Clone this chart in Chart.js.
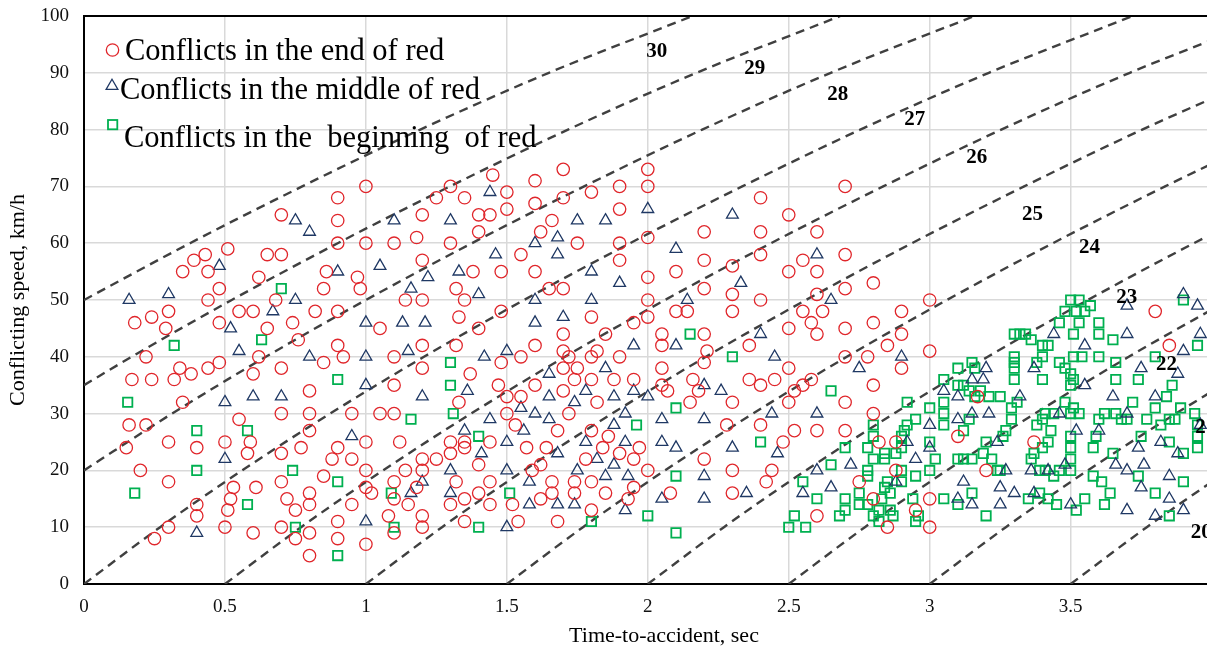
<!DOCTYPE html>
<html>
<head>
<meta charset="utf-8">
<script src="https://cdn.jsdelivr.net/npm/chart.js@4.4.1/dist/chart.umd.min.js"></script>
<style>
  html, body { margin: 0; padding: 0; background: #fff; overflow: hidden; }
  #wrap { width: 1207px; height: 649px; overflow: hidden; }
</style>
</head>
<body>
<div id="wrap"><canvas id="c" width="1220" height="649"></canvas></div>
<script>
// Conflicts in the end of red: [time-to-accident (s), conflicting speed (km/h)]
const endOfRed = [
  [1.0,70],[0.9,68],[0.7,65],[0.9,64],[0.9,60],[1.0,60],[0.51,59],[0.43,58],[0.39,57],[0.65,58],[0.70,58],
  [0.35,55],[0.44,55],[0.62,54],[0.86,55],[0.97,54],[0.48,52],[0.85,52],[0.98,52],[0.44,50],[0.68,50],
  [0.30,48],[0.55,48],[0.60,48],[0.82,48],[0.90,48],[0.18,46],[0.24,47],[0.29,45],[0.48,46],[0.65,45],
  [0.74,46],[0.76,43],[0.90,42],[0.22,40],[0.62,40],[0.92,40],
  [0.85,39],[0.48,39],[0.44,38],[0.34,38],[0.38,37],[0.17,36],[0.24,36],[0.32,36],[0.60,37],[0.70,38],
  [0.80,34],[0.35,32],[0.70,30],[0.80,30],[0.95,30],[0.55,29],[0.16,28],[0.22,28],[0.80,27],[0.30,25],
  [0.50,25],[0.59,25],[0.15,24],[0.40,24],[0.70,23],[0.58,23],[0.77,24],[0.90,24],[0.88,22],[0.95,22],
  [1.0,25],[0.20,20],[1.0,20],[0.85,19],[0.30,18],[0.70,18],[1.0,17],[1.02,16],[0.53,17],[0.61,17],
  [0.52,15],[0.72,15],[0.80,16],[0.40,14],[0.51,13],[0.75,13],[0.80,14],[0.95,14],[0.40,12],[0.30,10],
  [0.50,10],[0.70,10],[0.90,11],[0.25,8],[0.60,9],[0.75,8],[0.80,9],[0.90,8],[1.0,7],[0.80,5],
  [1.45,72],[1.70,73],[1.60,71],[1.30,70],[1.25,68],[1.35,68],[1.50,69],[1.60,67],[1.70,68],[1.80,69],
  [1.90,70],[2.0,70],[2.0,73],[1.20,65],[1.40,65],[1.44,65],[1.50,66],[1.66,64],[1.90,66],[1.40,62],
  [1.62,62],[1.10,60],[1.18,61],[1.30,60],[1.75,60],[1.90,60],[2.0,61],[1.20,57],[1.55,58],[1.90,57],
  [1.38,55],[1.48,55],[1.60,55],[2.0,54],[1.32,52],[1.65,52],[1.70,52],[1.14,50],[1.20,50],[1.35,50],
  [2.0,50],[1.48,48],[1.33,47],[1.80,47],[2.0,47],[1.05,45],[1.40,45],[1.95,46],[1.70,44],[1.85,44],
  [1.20,42],[1.32,42],[1.60,42],[1.70,41],[1.82,41],[1.10,40],[1.55,40],[1.72,40],[1.80,40],[1.90,40],
  [1.48,39],[1.20,38],[1.37,37],[1.70,38],[1.75,38],[1.74,36],[1.80,36],[1.88,36],[1.95,36],[1.10,35],
  [1.47,35],[1.60,35],[1.70,34],[1.33,32],[1.50,33],[1.55,33],[1.82,32],[1.05,30],[1.10,30],[1.50,30],
  [1.72,30],[1.53,28],[1.68,27],[1.80,27],[1.86,26],[1.12,25],[1.30,25],[1.35,25],[1.35,24],[1.44,25],
  [1.57,24],[1.64,24],[1.84,24],[1.97,24],[1.30,23],[1.90,23],[1.20,22],[1.25,22],[1.78,22],[1.95,22],
  [1.40,21],[1.62,21],[1.14,20],[1.20,20],[1.59,20],[2.0,20],[1.10,18],[1.32,18],[1.44,18],[1.66,18],
  [1.74,18],[1.80,18],[1.95,17],[1.18,17],[1.40,16],[1.66,16],[1.74,16],[1.85,16],[1.10,15],[1.35,15],
  [1.62,15],[1.93,15],[1.15,14],[1.30,14],[1.44,14],[1.52,14],[1.80,13],[1.08,12],[1.20,12],[1.35,11],
  [1.54,11],[1.68,11],[1.20,10],[1.10,9],
  [2.70,70],[2.40,68],[2.50,65],[2.20,62],[2.40,62],[2.60,62],[2.40,58],[2.70,58],[2.55,57],[2.20,57],
  [2.30,56],[2.10,55],[2.50,55],[2.60,55],[2.80,53],[2.20,52],[2.70,52],[2.30,51],[2.60,51],[2.40,50],
  [3.0,50],[2.10,48],[2.14,48],[2.30,48],[2.55,48],[2.62,48],[2.90,48],[2.58,46],[2.80,46],[2.05,44],
  [2.20,44],[2.50,45],[2.60,44],[2.70,45],[2.90,44],[2.05,42],[2.36,42],[2.85,42],[2.21,41],[2.70,40],
  [2.78,40],[3.0,41],[2.20,39],[2.05,38],[2.50,38],[2.90,38],[2.16,36],[2.36,36],[2.45,36],[2.58,36],
  [2.05,35],[2.40,35],[2.55,35],[2.80,35],[2.07,34],[2.18,34],[2.52,34],[2.15,32],[2.30,32],[2.50,32],
  [2.70,32],[2.80,30],[2.28,28],[2.40,28],[2.52,27],[2.60,27],[2.70,27],[2.48,25],[2.82,25],[2.88,25],
  [2.20,22],[2.30,20],[2.44,20],[2.88,20],[2.42,18],[2.75,18],[2.08,16],[2.30,16],[2.80,15],[3.0,15],
  [2.95,13],[2.60,12],[2.85,10],[3.0,10],
  [3.80,48],[3.85,42],[3.17,33],[3.10,26],[3.37,25],[3.20,20]
];

// Conflicts in the middle of red
const middleOfRed = [
  [0.75,64],[0.80,62],[0.48,56],[0.90,55],[0.16,50],[0.30,51],[0.75,50],[0.67,48],[0.52,45],[1.0,46],
  [0.55,41],[0.80,40],[1.0,40],[1.0,35],[0.50,32],[0.60,33],[0.70,33],[0.95,26],[0.50,22],[1.0,11],[0.40,9],
  [1.44,69],[1.10,64],[1.30,64],[1.75,64],[1.85,64],[2.0,66],[1.60,60],[1.68,61],[1.46,58],[1.68,58],
  [1.05,56],[1.22,54],[1.33,55],[1.80,55],[1.16,52],[1.40,51],[1.90,53],[1.60,50],[1.80,50],[1.13,46],
  [1.21,46],[1.60,46],[1.70,47],[1.95,42],[1.15,41],[1.50,41],[1.42,40],
  [1.65,37],[1.85,38],[1.36,34],[1.78,34],[1.95,34],[2.0,33],[1.20,33],[1.65,33],[1.74,32],[1.88,33],
  [1.44,29],[1.55,31],[1.60,30],[1.65,29],[1.92,30],[1.35,27],[1.56,27],[1.88,28],[1.50,25],[1.78,25],
  [1.92,25],[1.41,23],[1.68,23],[1.82,22],[1.88,21],[1.30,20],[1.50,20],[1.75,20],[1.20,18],[1.58,18],
  [1.85,19],[1.93,19],[1.16,16],[1.30,16],[1.58,14],[1.68,14],[1.74,14],[1.92,13],[1.50,10],
  [2.30,65],[2.10,59],[2.60,58],[2.33,53],[2.14,50],[2.65,50],[2.40,44],[2.10,42],[2.45,40],[2.90,40],
  [2.75,38],[2.20,35],[2.26,34],[2.44,30],[2.60,30],[2.05,29],[2.20,29],[3.0,28],[2.05,25],[2.92,25],
  [2.10,24],[2.30,24],[3.0,24],[2.46,23],[2.95,22],[2.72,21],[2.60,20],[2.20,19],[2.88,18],[2.65,17],
  [2.35,16],[2.55,16],[2.05,15],[2.20,15],
  [3.70,49],[3.90,51],[3.95,49],[3.44,44],[3.70,44],[3.96,44],[3.55,42],[3.37,38],[3.90,41],[3.75,38],
  [3.88,37],[3.55,35],[3.20,38],[3.15,36],[3.19,36],[3.05,34],[3.10,33],[3.32,33],[3.65,33],[3.80,33],
  [3.10,29],[3.15,30],[3.21,30],[3.24,25],[3.46,30],[3.52,27],[3.70,30],[3.96,28],[3.60,27],[3.74,24],
  [3.82,25],[3.88,23],[3.27,20],[3.36,20],[3.42,20],[3.48,21],[3.66,21],[3.70,20],[3.76,21],[3.85,19],
  [3.12,18],[3.25,17],[3.30,16],[3.37,16],[3.50,14],[3.75,17],[3.85,15],[3.70,13],[3.80,12],[3.90,13],
  [3.10,15],[3.15,14],[3.25,14]
];

// Conflicts in the beginning of red
const beginningOfRed = [
  [0.70,52],[0.63,43],[0.32,42],[0.90,36],[0.155,32],[0.40,27],[0.58,27],[0.40,20],[0.74,20],[0.90,18],
  [0.18,16],[0.58,14],[0.75,10],[0.90,5],
  [1.30,39],[1.30,35],[1.16,29],[1.31,30],[1.96,28],[1.40,26],[1.09,16],[1.51,16],[2.0,12],[1.80,11],
  [1.10,10],[1.40,10],
  [2.15,44],[2.30,40],[2.65,34],[2.92,32],[3.0,31],[2.10,31],[2.95,29],[2.80,28],[2.92,28],[2.91,27],
  [2.80,26],[2.90,26],[2.40,25],[3.0,25],[2.70,24],[2.78,24],[2.84,23],[2.88,23],[2.90,24],[2.80,22],
  [2.84,22],[2.65,21],[2.10,19],[2.78,20],[2.78,19],[2.90,20],[3.0,20],[2.55,18],[2.85,18],[2.90,18],
  [2.95,19],[2.84,17],[2.75,16],[2.86,16],[2.60,15],[2.70,15],[2.75,14],[2.78,14],[2.83,15],[2.94,15],
  [2.70,13],[2.82,13],[2.86,13],[2.52,12],[2.68,12],[2.80,12],[2.87,12],[2.96,12],[2.82,11],[2.95,11],
  [2.50,10],[2.56,10],[2.10,9],
  [3.50,50],[3.53,50],[3.57,49],[3.90,50],[3.48,48],[3.52,48],[3.55,48],[3.46,46],[3.53,46],[3.60,46],
  [3.30,44],[3.32,44],[3.34,44],[3.36,43],[3.51,44],[3.60,44],[3.65,43],[3.40,42],[3.42,42],[3.95,42],
  [3.30,40],[3.30,39],[3.30,38],[3.30,36],[3.40,40],[3.38,39],[3.40,36],[3.46,39],[3.48,38],[3.51,40],
  [3.54,40],[3.60,40],[3.66,39],[3.80,40],[3.50,37],[3.51,36],[3.50,35],[3.66,36],[3.74,36],[3.86,35],
  [3.05,36],[3.10,38],[3.15,39],[3.16,38],[3.10,35],[3.12,35],[3.14,34],[3.18,34],[3.16,33],[3.21,33],
  [3.25,33],[3.31,32],[3.29,31],[3.48,32],[3.51,31],[3.72,32],[3.80,31],[3.84,33],[3.89,31],[3.94,30],
  [3.05,32],[3.05,30],[3.05,28],[3.14,29],[3.12,27],[3.29,29],[3.27,27],[3.26,26],[3.20,25],[3.19,23],
  [3.22,22],[3.41,30],[3.44,30],[3.50,30],[3.53,30],[3.38,28],[3.40,29],[3.43,27],[3.60,29],[3.62,30],
  [3.66,30],[3.68,29],[3.70,29],[3.77,29],[3.82,28],[3.85,29],[3.87,29],[3.95,28],[3.59,26],[3.50,26],
  [3.75,26],[3.50,24],[3.58,24],[3.85,25],[3.95,26],[3.95,24],[3.42,25],[3.40,24],[3.37,23],[3.36,22],
  [3.65,23],[3.90,23],[3.10,22],[3.12,22],[3.15,22],[3.02,22],[3.24,20],[3.25,20],[3.39,20],[3.41,20],
  [3.44,19],[3.46,20],[3.50,20],[3.50,22],[3.74,19],[3.58,19],[3.61,18],[3.90,18],[3.15,16],[3.35,15],
  [3.39,16],[3.42,15],[3.45,14],[3.52,13],[3.55,15],[3.64,16],[3.62,14],[3.80,16],[3.85,12],[3.10,14],
  [3.20,12],[3.05,15]
];

// Severity curves (dashed), one per level: [time-to-accident, speed]
const curve30 = [[0,50],[0.376,60],[0.774,70],[1.193,80],[1.649,90],[2.159,100],[2.66,110]];
const curve29 = [[0,35],[0.169,40],[0.524,50],[0.900,60],[1.298,70],[1.717,80],[2.173,90],[2.683,100],[3.183,110]];
const curve28 = [[0,20],[0.312,30],[0.645,40],[1.000,50],[1.376,60],[1.774,70],[2.193,80],[2.649,90],[3.159,100],[3.66,110]];
const curve27 = [[0,0],[0.270,10],[0.561,20],[0.873,30],[1.206,40],[1.561,50],[1.937,60],[2.335,70],[2.754,80],[3.21,90],[3.72,100],[4.22,110]];
const curve26 = [[0.5,0],[0.770,10],[1.061,20],[1.373,30],[1.706,40],[2.061,50],[2.437,60],[2.835,70],[3.254,80],[3.71,90],[4.22,100]];
const curve25 = [[1.0,0],[1.270,10],[1.561,20],[1.873,30],[2.206,40],[2.561,50],[2.937,60],[3.335,70],[3.754,80],[4.21,90]];
const curve24 = [[1.5,0],[1.770,10],[2.061,20],[2.373,30],[2.706,40],[3.061,50],[3.437,60],[3.835,70],[4.254,80]];
const curve23 = [[2.0,0],[2.270,10],[2.561,20],[2.873,30],[3.206,40],[3.561,50],[3.937,60],[4.335,70]];
const curve22 = [[2.5,0],[2.770,10],[3.061,20],[3.373,30],[3.706,40],[4.061,50]];
const curve21 = [[3.0,0],[3.270,10],[3.561,20],[3.873,30],[4.206,40]];
const curve20 = [[3.5,0],[3.770,10],[4.061,20],[4.373,30]];

const severityLevels = ['30','29','28','27','26','25','24','23','22','21','20'];
const xTicks = [0, 0.5, 1, 1.5, 2, 2.5, 3, 3.5];

const seriesNames = [
  'Conflicts in the end of red',
  'Conflicts in the middle of red',
  'Conflicts in the  beginning  of red'
];

const SERIF = "'Liberation Serif', 'Times New Roman', serif";
const RED = '#e0262b', NAVY = '#1f3864', GREEN = '#00b050';

const toXY = arr => arr.map(p => ({ x: p[0], y: p[1] }));
const curves = [curve30, curve29, curve28, curve27, curve26, curve25, curve24, curve23, curve22, curve21, curve20];

const datasets = [
  { label: seriesNames[0], data: toXY(endOfRed), pointStyle: 'circle', pointRadius: 6.2,
    borderColor: RED, backgroundColor: 'rgba(0,0,0,0)', pointBorderWidth: 1.3, showLine: false, order: 0 },
  { label: seriesNames[1], data: toXY(middleOfRed), pointStyle: 'triangle', pointRadius: 6.8,
    borderColor: NAVY, backgroundColor: 'rgba(0,0,0,0)', pointBorderWidth: 1.3, showLine: false, order: 0 },
  { label: seriesNames[2], data: toXY(beginningOfRed), pointStyle: 'rect', pointRadius: 6.6,
    borderColor: GREEN, backgroundColor: 'rgba(0,0,0,0)', pointBorderWidth: 1.8, showLine: false, order: 0 }
];
curves.forEach((c, i) => {
  datasets.push({
    label: 'level ' + severityLevels[i], data: toXY(c), showLine: true, pointRadius: 0,
    borderColor: '#404040', borderWidth: 2.4, borderDash: [9, 6], fill: false,
    cubicInterpolationMode: 'monotone', order: 1
  });
});

// Where the level numbers sit, in axis units
const levelLabelAt = [
  [2.032, 93.7], [2.379, 90.8], [2.674, 86.1], [2.947, 81.7], [3.167, 75.0], [3.365, 65.0],
  [3.567, 59.2], [3.699, 50.4], [3.840, 38.6], [3.979, 27.6], [3.963, 9.0]
];

const decorations = {
  id: 'decorations',
  afterDatasetsDraw(chart) {
    const { ctx, chartArea: a, scales: { x, y } } = chart;
    ctx.save();
    // top border of the plot area
    ctx.strokeStyle = '#000'; ctx.lineWidth = 2;
    ctx.beginPath(); ctx.moveTo(a.left - 1, a.top); ctx.lineTo(a.right, a.top); ctx.stroke();

    // level numbers on the curves
    ctx.fillStyle = '#000';
    ctx.font = 'bold 21px ' + SERIF;
    ctx.textAlign = 'center'; ctx.textBaseline = 'middle';
    severityLevels.forEach((t, i) => {
      ctx.fillText(t, x.getPixelForValue(levelLabelAt[i][0]), y.getPixelForValue(levelLabelAt[i][1]));
    });

    // legend
    ctx.font = '30.5px ' + SERIF;
    ctx.textAlign = 'left'; ctx.textBaseline = 'alphabetic';
    const L = a.left;
    // circle
    ctx.strokeStyle = RED; ctx.lineWidth = 1.3;
    ctx.beginPath(); ctx.arc(L + 28.5, 50, 6.2, 0, Math.PI * 2); ctx.stroke();
    ctx.fillText(seriesNames[0], L + 41, 60);
    // triangle
    ctx.strokeStyle = NAVY;
    const tr = 6.8, tx = L + 28, ty = 86;
    ctx.beginPath();
    ctx.moveTo(tx, ty - tr);
    ctx.lineTo(tx + tr * Math.sin(2 * Math.PI / 3), ty - tr * Math.cos(2 * Math.PI / 3));
    ctx.lineTo(tx + tr * Math.sin(4 * Math.PI / 3), ty - tr * Math.cos(4 * Math.PI / 3));
    ctx.closePath(); ctx.stroke();
    ctx.fillText(seriesNames[1], L + 36, 99);
    // square
    ctx.strokeStyle = GREEN; ctx.lineWidth = 1.8;
    ctx.strokeRect(L + 24, 120, 9.3, 9.3);
    ctx.fillText(seriesNames[2], L + 40, 147);

    // axis titles
    ctx.font = '22px ' + SERIF;
    ctx.textAlign = 'center'; ctx.textBaseline = 'middle';
    ctx.fillText('Time-to-accident, sec', 664, 636);
    ctx.translate(18, (a.top + a.bottom) / 2);
    ctx.rotate(-Math.PI / 2);
    ctx.fillText('Conflicting speed, km/h', 0, 0);
    ctx.restore();
  }
};

new Chart(document.getElementById('c'), {
  type: 'scatter',
  data: { datasets },
  options: {
    responsive: false,
    animation: false,
    devicePixelRatio: 1,
    layout: { padding: { top: 16, right: 0, left: 0, bottom: 0 } },
    plugins: { legend: { display: false }, tooltip: { enabled: false } },
    scales: {
      x: {
        type: 'linear', min: 0, max: 4,
        afterBuildTicks: s => { s.ticks = xTicks.map(v => ({ value: v })); },
        afterFit: s => { s.height = 65; s.paddingLeft = 0; s.paddingRight = 0; },
        ticks: { font: { family: SERIF, size: 19 }, color: '#111', padding: 12,
                 callback: v => String(v) },
        grid: { color: '#d9d9d9', lineWidth: 1.5, drawTicks: false },
        border: { color: '#000', width: 2 }
      },
      y: {
        type: 'linear', min: 0, max: 100,
        ticks: { stepSize: 10, font: { family: SERIF, size: 19 }, color: '#111', padding: 15 },
        afterFit: s => { s.width = 84; s.paddingTop = 0; s.paddingBottom = 0; },
        grid: { color: '#d9d9d9', lineWidth: 1.5, drawTicks: false },
        border: { color: '#000', width: 2 }
      }
    }
  },
  plugins: [decorations]
});
</script>
</body>
</html>
